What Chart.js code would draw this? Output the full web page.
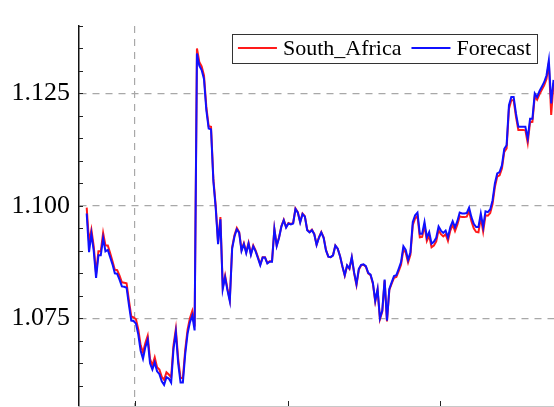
<!DOCTYPE html>
<html>
<head>
<meta charset="utf-8">
<script src="https://cdn.jsdelivr.net/npm/chart.js@4/dist/chart.umd.min.js"></script>
<style>
  html, body { margin: 0; padding: 0; background: #fff; }
  canvas { display: block; }
</style>
</head>
<body>
<canvas id="fx" width="554" height="407"></canvas>
<script>
// Daily South Africa series and its forecast
const southAfrica = [
  1.0996, 1.0919, 1.0947, 1.0910, 1.0849, 1.0899, 1.0899, 1.0940, 1.0912, 1.0912,
  1.0895, 1.0877, 1.0858, 1.0857, 1.0845, 1.0830, 1.0829, 1.0828, 1.0790, 1.0754,
  1.0752, 1.0748, 1.0725, 1.0690, 1.0674, 1.0695, 1.0711, 1.0660, 1.0645, 1.0663,
  1.0641, 1.0636, 1.0620, 1.0613, 1.0630, 1.0625, 1.0619, 1.0690, 1.0726, 1.0660,
  1.0617, 1.0617, 1.0680, 1.0725, 1.0750, 1.0766, 1.0732, 1.1350, 1.1320, 1.1310,
  1.1290, 1.1220, 1.1177, 1.1176, 1.1060, 1.1000, 1.0919, 1.0975, 1.0819, 1.0845,
  1.0816, 1.0791, 1.0908, 1.0935, 1.0951, 1.0942, 1.0902, 1.0917, 1.0897, 1.0918,
  1.0893, 1.0912, 1.0901, 1.0886, 1.0870, 1.0886, 1.0886, 1.0873, 1.0877, 1.0877,
  1.0949, 1.0912, 1.0930, 1.0955, 1.0969, 1.0953, 1.0962, 1.0960, 1.0962, 1.0994,
  1.0986, 1.0964, 1.0983, 1.0977, 1.0947, 1.0942, 1.0947, 1.0938, 1.0914, 1.0930,
  1.0942, 1.0930, 1.0902, 1.0887, 1.0886, 1.0890, 1.0912, 1.0905, 1.0888, 1.0865,
  1.0845, 1.0867, 1.0860, 1.0885, 1.0850, 1.0824, 1.0858, 1.0868, 1.0869, 1.0865,
  1.0850, 1.0846, 1.0827, 1.0787, 1.0813, 1.0748, 1.0765, 1.0834, 1.0743, 1.0813,
  1.0827, 1.0840, 1.0842, 1.0855, 1.0869, 1.0903, 1.0896, 1.0874, 1.0891, 1.0957,
  1.0972, 1.0978, 1.0930, 1.0931, 1.0956, 1.0922, 1.0934, 1.0908, 1.0912, 1.0921,
  1.0946, 1.0937, 1.0932, 1.0937, 1.0922, 1.0945, 1.0958, 1.0944, 1.0958, 1.0977,
  1.0975, 1.0975, 1.0976, 1.0988, 1.0966, 1.0950, 1.0942, 1.0941, 1.0974, 1.0943,
  1.0979, 1.0978, 1.0984, 1.1004, 1.1042, 1.1065, 1.1068, 1.1083, 1.1120, 1.1128,
  1.1216, 1.1235, 1.1235, 1.1198, 1.1169, 1.1169, 1.1169, 1.1168, 1.1140, 1.1186,
  1.1187, 1.1244, 1.1236, 1.1248, 1.1258, 1.1268, 1.1282, 1.1318, 1.1202, 1.1273
];

const forecast = [
  1.0983, 1.0897, 1.0938, 1.0900, 1.0840, 1.0890, 1.0890, 1.0928, 1.0899, 1.0902,
  1.0886, 1.0870, 1.0850, 1.0849, 1.0836, 1.0821, 1.0820, 1.0818, 1.0780, 1.0745,
  1.0744, 1.0738, 1.0714, 1.0678, 1.0660, 1.0686, 1.0702, 1.0650, 1.0636, 1.0652,
  1.0632, 1.0626, 1.0610, 1.0602, 1.0619, 1.0616, 1.0607, 1.0682, 1.0719, 1.0650,
  1.0607, 1.0607, 1.0671, 1.0716, 1.0741, 1.0756, 1.0723, 1.1339, 1.1312, 1.1302,
  1.1282, 1.1213, 1.1172, 1.1170, 1.1055, 1.0995, 1.0915, 1.0970, 1.0815, 1.0841,
  1.0812, 1.0788, 1.0905, 1.0932, 1.0948, 1.0940, 1.0900, 1.0915, 1.0895, 1.0916,
  1.0891, 1.0910, 1.0899, 1.0884, 1.0868, 1.0885, 1.0885, 1.0872, 1.0876, 1.0876,
  1.0948, 1.0911, 1.0929, 1.0954, 1.0968, 1.0952, 1.0961, 1.0959, 1.0961, 1.0993,
  1.0985, 1.0963, 1.0982, 1.0976, 1.0946, 1.0941, 1.0946, 1.0937, 1.0913, 1.0929,
  1.0941, 1.0929, 1.0901, 1.0887, 1.0886, 1.0890, 1.0912, 1.0905, 1.0888, 1.0866,
  1.0846, 1.0868, 1.0861, 1.0886, 1.0852, 1.0826, 1.0860, 1.0869, 1.0870, 1.0866,
  1.0851, 1.0847, 1.0829, 1.0789, 1.0815, 1.0750, 1.0767, 1.0836, 1.0745, 1.0815,
  1.0830, 1.0844, 1.0846, 1.0860, 1.0875, 1.0910, 1.0902, 1.0880, 1.0897, 1.0964,
  1.0979, 1.0985, 1.0938, 1.0938, 1.0964, 1.0930, 1.0942, 1.0916, 1.0920, 1.0929,
  1.0954, 1.0945, 1.0940, 1.0945, 1.0930, 1.0953, 1.0966, 1.0952, 1.0966, 1.0985,
  1.0983, 1.0983, 1.0984, 1.0996, 1.0975, 1.0960, 1.0953, 1.0953, 1.0983, 1.0953,
  1.0988, 1.0986, 1.0992, 1.1012, 1.1050, 1.1072, 1.1075, 1.1090, 1.1127, 1.1135,
  1.1224, 1.1242, 1.1242, 1.1205, 1.1176, 1.1176, 1.1176, 1.1176, 1.1150, 1.1194,
  1.1194, 1.1250, 1.1242, 1.1255, 1.1265, 1.1275, 1.1290, 1.1324, 1.1228, 1.1280
];

// trading-day index of each observation
const days = southAfrica.map((_, i) => i);

// labelled y ticks and the positions of the quarterly x ticks
const yTickValues = [1.075, 1.100, 1.125];
const xTickValues = [20.6, 85.6, 150.6];
const yMinorStep = 0.005;

const serif = "'Liberation Serif', 'Times New Roman', serif";

// short inward tick marks on both axes
const axisTicks = {
  id: 'axisTicks',
  afterDraw(chart) {
    const { ctx, chartArea, scales } = chart;
    const y = scales.y, x = scales.x;
    ctx.save();
    ctx.strokeStyle = '#222';
    ctx.lineWidth = 1;
    ctx.beginPath();
    for (let v = 1.060; v <= y.max + 1e-9; v += yMinorStep) {
      const py = Math.round(y.getPixelForValue(v)) + 0.5;
      ctx.moveTo(chartArea.left, py);
      ctx.lineTo(chartArea.left + 4, py);
    }
    xTickValues.forEach(v => {
      const px = Math.round(x.getPixelForValue(v)) + 0.5;
      ctx.moveTo(px, chartArea.bottom);
      ctx.lineTo(px, chartArea.bottom - 5);
    });
    ctx.stroke();
    ctx.restore();
  }
};

// boxed legend in the upper right of the plot
const boxLegend = {
  id: 'boxLegend',
  afterDraw(chart) {
    const { ctx, chartArea } = chart;
    ctx.save();
    ctx.font = '22px ' + serif;
    const sets = chart.data.datasets;
    const lineLen = 39, pad = 6, gap = 6, between = 10;
    let w = pad * 2;
    sets.forEach((d, i) => {
      w += lineLen + gap + ctx.measureText(d.label).width;
      if (i < sets.length - 1) w += between;
    });
    const h = 29;
    const right = chartArea.right - 17;
    const left = right - w;
    const top = chartArea.top + 7.5;
    ctx.fillStyle = '#fff';
    ctx.fillRect(left, top, w, h);
    ctx.strokeStyle = '#333';
    ctx.lineWidth = 1;
    ctx.strokeRect(Math.round(left) + 0.5, Math.round(top) + 0.5, Math.round(w), h);
    let cx = left + pad;
    const cy = top + h / 2;
    sets.forEach(d => {
      ctx.strokeStyle = d.borderColor;
      ctx.lineWidth = 2;
      ctx.beginPath();
      ctx.moveTo(cx, cy);
      ctx.lineTo(cx + lineLen, cy);
      ctx.stroke();
      cx += lineLen + gap;
      ctx.fillStyle = '#000';
      ctx.textBaseline = 'middle';
      ctx.textAlign = 'left';
      ctx.fillText(d.label, cx, cy + 1);
      cx += ctx.measureText(d.label).width + between;
    });
    ctx.restore();
  }
};

new Chart(document.getElementById('fx'), {
  type: 'line',
  data: {
    datasets: [
      {
        label: 'South_Africa',
        data: days.map((d, i) => ({ x: d, y: southAfrica[i] })),
        borderColor: '#ff1a1a',
        borderWidth: 2,
        pointRadius: 0,
        tension: 0,
        order: 1
      },
      {
        label: 'Forecast',
        data: days.map((d, i) => ({ x: d, y: forecast[i] })),
        borderColor: '#1010ff',
        borderWidth: 2,
        pointRadius: 0,
        tension: 0,
        order: 0
      }
    ]
  },
  options: {
    responsive: false,
    animation: false,
    devicePixelRatio: 1,
    layout: { padding: { top: 26, right: 0, bottom: 1, left: 0 } },
    plugins: { legend: { display: false }, tooltip: { enabled: false } },
    scales: {
      x: {
        type: 'linear',
        min: -3.28,
        max: 199.2,
        afterBuildTicks: s => { s.ticks = xTickValues.map(v => ({ value: v })); },
        afterFit: s => { s.height = 0; s.paddingLeft = 0; s.paddingRight = 0; },
        ticks: { display: false },
        grid: {
          drawTicks: false,
          color: c => (c.index === 0 ? '#a8a8a8' : 'rgba(0,0,0,0)'),
          lineWidth: 1.2
        },
        border: { display: true, color: '#c8c8c8', width: 1, dash: [7, 6] }
      },
      y: {
        min: 1.0555,
        max: 1.14,
        afterBuildTicks: s => { s.ticks = yTickValues.map(v => ({ value: v })); },
        afterFit: s => { s.width = 79; s.paddingTop = 0; s.paddingBottom = 0; },
        ticks: {
          padding: 9,
          color: '#000',
          font: { family: serif, size: 26 },
          callback: v => Number(v).toFixed(3)
        },
        grid: { drawTicks: false, color: '#a8a8a8', lineWidth: 1.2 },
        border: { display: true, color: '#111', width: 1.5, dash: [7, 6] }
      }
    }
  },
  plugins: [axisTicks, boxLegend]
});
</script>
</body>
</html>
